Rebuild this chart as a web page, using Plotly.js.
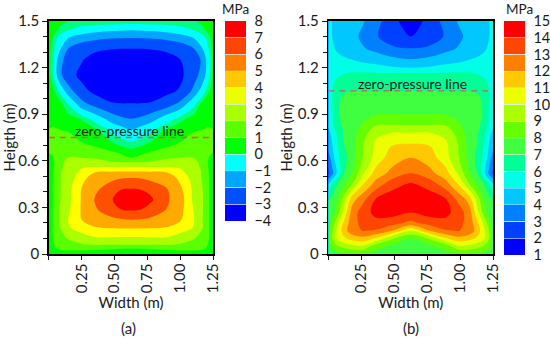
<!DOCTYPE html>
<html><head><meta charset="utf-8">
<script src="https://cdn.plot.ly/plotly-3.0.1.min.js"></script>
<style>html,body{margin:0;padding:0;background:#fff}</style></head>
<body><div id="chart" style="width:550px;height:338px"></div>
<script>
var FONT = 'Lato, "Open Sans", sans-serif';
var INK = '#1a1a1a';
var aX = [0,.03,.08,.15,.25,.35,.48,.55,.625,.70,.77,.90,1.0,1.10,1.17,1.22,1.25];
var aY = [0,.035,.06,.11,.165,.22,.28,.35,.42,.49,.53,.56,.59,.62,.65,.72,.80,.87,.97,1.05,1.15,1.25,1.32,1.39,1.44,1.48,1.5];
var aZ = [
[.55,.6,.6,.6,.6,.6,.6,.6,.6,.6,.6,.6,.6,.6,.6,.6,.55],
[.6,.85,1.1,1.2,1.2,1.15,1.05,1.02,1,1.02,1.05,1.15,1.2,1.2,1.1,.85,.6],
[.6,.9,1.3,1.6,1.9,2.05,2.05,2.02,2,2.02,2.05,2.05,1.9,1.6,1.3,.9,.6],
[.6,1,1.6,2.2,2.7,3,3.05,3.02,3,3.02,3.05,3,2.7,2.2,1.6,1,.6],
[.6,1,1.9,2.9,3.4,3.8,4,4.02,4.02,4.02,4,3.8,3.4,2.95,2,1,.6],
[.6,1,2,3.05,4,4.9,5.7,5.9,6,5.95,5.8,5,4.1,3.1,2,1,.6],
[.6,1,2,2.9,4.1,5.8,6.7,6.95,7,6.95,6.7,5.9,4.3,3,2.05,1,.6],
[.5,.95,1.9,2.7,4.1,6.1,6.95,7.5,7.7,7.55,7.15,6.3,4.5,2.8,2.05,1,.5],
[.6,1,1.9,2.7,4.05,5.7,6.7,6.95,7,6.95,6.8,6,4.2,2.8,2,1,.55],
[.55,.95,1.9,2.5,3.6,4.6,5.7,5.95,6,5.95,5.7,4.7,3.7,2.6,1.9,.95,.55],
[.5,.9,1.9,2.4,3.2,3.9,4,4.02,4.02,4.02,4,3.9,3.2,2.5,1.9,.9,.5],
[.5,.85,1.8,2.3,2.9,3,3,3.02,3.02,3.02,3,3,2.9,2.3,1.85,.85,.5],
[.5,.8,1.7,2.3,2.4,2.3,2.1,2.03,2,2.03,2.1,2.3,2.4,2.3,1.7,.8,.5],
[.85,.95,1.7,2.05,2,1.9,1.4,1.15,1,1.15,1.4,1.9,2,2,1.7,.95,.85],
[1,1.1,1.4,1.5,1.4,1.3,1.1,.95,.8,.9,1.05,1.25,1.35,1.4,1.4,1.1,1],
[1.25,1.3,1.3,1.2,1,.8,.5,.25,.05,.25,.5,.8,1,1.2,1.3,1.3,1.25],
[1,1.05,1,.95,.85,.6,-.2,-.6,-1,-.6,-.2,.6,.85,.95,1,1.05,1],
[.9,.85,.85,.8,.45,-.3,-1.5,-1.85,-2,-1.85,-1.5,-.4,.3,.8,.85,.85,.9],
[.85,.8,.75,-.1,-1.7,-2.5,-2.95,-3,-3,-3,-2.95,-2.6,-1.8,-.3,.7,.8,.85],
[.8,.65,-.1,-1.6,-2.75,-3.2,-3.6,-3.67,-3.7,-3.67,-3.6,-3.2,-2.9,-1.8,-.4,.5,.8],
[.8,.1,-1.7,-2.7,-3.2,-3.5,-3.75,-3.82,-3.85,-3.82,-3.75,-3.5,-3.2,-2.4,-1.6,-.1,.7],
[.7,.2,-1.6,-2.5,-2.95,-3.3,-3.55,-3.58,-3.6,-3.58,-3.55,-3.3,-3,-2.6,-1.8,-.2,.65],
[.7,.3,-.8,-2.1,-2.6,-2.85,-2.98,-3.02,-3.02,-3.02,-2.98,-2.85,-2.6,-2.1,-1,.1,.7],
[.75,.5,-.3,-1,-1.6,-1.8,-1.95,-1.98,-2,-1.98,-1.95,-1.8,-1.6,-1,-.3,.4,.75],
[.85,.65,.4,0,-.4,-.7,-.9,-.95,-1,-.95,-.9,-.7,-.4,0,.4,.65,.85],
[.9,.8,.6,.35,.2,.1,.05,.02,0,.02,.05,.1,.2,.35,.55,.8,.9],
[.9,.85,.65,.45,.4,.35,.3,.3,.3,.3,.3,.35,.4,.45,.6,.85,.9]
];
var bX = [0,.03,.07,.12,.18,.26,.36,.48,.625,.77,.89,.99,1.07,1.13,1.18,1.22,1.25];
var bY = [0,.05,.1,.15,.2,.27,.35,.45,.52,.62,.71,.78,.83,.9,1,1.05,1.1,1.165,1.2,1.25,1.32,1.4,1.5];
var bZ = [
[7,7.4,7.7,7.9,8,7.95,7.7,7.4,7.1,7.4,7.7,7.95,8,7.9,7.7,7.4,7],
[7.3,8.4,8.9,9.4,9.7,9.9,8.4,7.8,7.5,7.8,8.4,9.9,9.7,9.4,8.9,8.4,7.3],
[7.6,9,10.2,10.8,11.4,11.7,10.9,9.2,7.8,9.2,10.9,11.7,11.4,10.8,10.2,9,7.6],
[7.3,8.9,10.2,11.6,12.6,13.05,12.9,12,10.1,12,12.9,13.05,12.6,11.6,10.2,8.9,7.3],
[7.1,8.4,9.8,11.2,12.6,13.3,13.7,13.4,12.75,13.4,13.7,13.3,12.6,11.2,9.8,8.4,7.1],
[7.1,7.4,8.5,10.3,12.4,13.5,14.3,14.5,14.05,14.5,14.3,13.5,12.4,10.3,8.5,7.4,7.1],
[6.95,7.3,7.95,9.6,11.6,12.7,14.1,14.6,14.7,14.6,14.1,12.7,11.6,9.6,7.95,7.3,6.95],
[5,6,7,7.8,9,10.9,12.4,13.55,14.15,13.55,12.4,10.9,9,7.8,7,6,5],
[2.8,3.7,5.3,7,8,9.8,11.4,12.3,13,12.3,11.4,9.8,8,7,5.3,3.7,2.8],
[3.4,4.6,5.7,6.7,7.6,9,10.4,11.5,12,11.5,10.4,9,7.6,6.7,5.7,4.6,3.4],
[4.6,5,6,7,7.6,8.9,10.2,10.9,11,10.9,10.2,8.9,7.6,7,6,5,4.6],
[4.8,5.2,6.3,7.1,7.5,8.5,9.7,10,10,10,9.7,8.5,7.5,7.1,6.3,5.2,4.8],
[5.1,5.8,6.7,7.2,7.5,8.1,8.95,9,9,9,8.95,8.1,7.5,7.2,6.7,5.8,5.1],
[5.2,5.9,6.9,7.3,7.5,7.7,7.95,8,8,8,7.95,7.7,7.5,7.3,6.9,5.9,5.2],
[5.3,6,6.8,7.2,7.3,7.4,7.45,7.5,7.5,7.5,7.45,7.4,7.3,7.2,6.8,6,5.3],
[5.3,5.95,6.5,6.9,7,7,7,7,7,7,7,7,7,6.9,6.5,5.95,5.3],
[5.3,5.9,6.2,6.4,6.5,6.5,6.5,6.5,6.5,6.5,6.5,6.5,6.5,6.4,6.2,5.9,5.3],
[5.3,5.4,5.8,5.95,6.05,6.05,6.05,6.02,6,6.02,6.05,6.05,6.05,5.95,5.8,5.4,5.3],
[5.3,5.3,5.5,5.6,5.6,5.5,5.3,5.1,4.95,5.1,5.3,5.5,5.6,5.6,5.5,5.3,5.3],
[5.25,5.2,5.2,5.1,5,4.75,4.6,4.3,4.05,4.3,4.6,4.75,5,5.1,5.2,5.2,5.25],
[5.2,5.1,4.9,4.7,4.4,4.1,3.75,3.2,3.05,3.2,3.75,4.1,4.4,4.7,4.9,5.1,5.2],
[5.1,5,4.7,4.5,4.3,3.8,3.1,2.5,2,2.5,3.1,3.8,4.3,4.5,4.7,5,5.1],
[5.05,5,4.8,4.6,4.4,4.1,3.4,2.4,1.3,2.4,3.4,4.1,4.4,4.6,4.8,5,5.05]
];
var aBarColors = ['#0000ff','#0050ff','#00a5ff','#00ffff','#00ff00','#5aff00','#aaff00','#ebff00','#ffc800','#ff8000','#ff4600','#ff0000'];
var bBarColors = ['#0000ff','#0040ff','#0080ff','#00c8ff','#00ffe6','#00ff96','#40ff40','#64ff00','#aaff00','#ebff00','#ffc800','#ff8000','#ff4600','#ff0000'];
var aFillColors = ['#0000ff','#0000ff','#0050ff','#0050ff','#00a5ff','#00a5ff','#00ffff','#00ffff','#00ff80','#00ff00','#5aff00','#5aff00','#aaff00','#aaff00','#ffff00','#ffff00','#ffaa00','#ffaa00','#ffaa00','#ffaa00','#ff5000','#ff5000','#ff0000','#ff0000'];
var aTicks = [-4,-3,-2,-1,0,1,2,3,4,5,6,7,8];
var bTicks = [1,2,3,4,5,6,7,8,9,10,11,12,13,14,15];
var xTicks = [0,.25,.5,.75,1,1.25];
var xLabels = ['','0.25','0.50','0.75','1.00','1.25'];
var yTicks = [0,.3,.6,.9,1.2,1.5];
var yLabels = ['0','0.3','0.6','0.9','1.2','1.5'];
var yMinor = [.1,.2,.4,.5,.7,.8,1,1.1,1.3,1.4];
var aZeroLine = [.75,.75];
var bZeroLine = [1.05,1.05];
var lineX = [0,1.25];

function scale(cols){
  var bands=[cols[0]].concat(cols,[cols[cols.length-1]]);
  var n=bands.length-1;
  return bands.map(function(c,i){return [i/n,c];});
}
function barScale(cols){
  var n=cols.length,g=.035,out=[];
  cols.forEach(function(c,i){
    if(i>0) out.push([i/n,'#e6eef0']);
    out.push([(i+(i>0?g:0))/n,c]);
    out.push([(i+1-(i<n-1?g:0))/n,c]);
  });
  return out;
}
function base(x,y,z,cols,ticks,xa,ya,barX,barLen){
  return {type:'heatmap',x:x,y:y,z:z,xaxis:xa,yaxis:ya,zmin:ticks[0],zmax:ticks[ticks.length-1],
    colorscale:barScale(cols),showscale:true,hoverinfo:'skip',
    colorbar:{x:barX/550,xref:'paper',xanchor:'left',xpad:0,ypad:0,y:1-21/338,yref:'paper',yanchor:'top',
      len:barLen,lenmode:'pixels',thickness:21,thicknessmode:'pixels',outlinewidth:0,
      tickmode:'array',tickvals:ticks,ticktext:ticks.map(function(v){return v<0?'\u2212'+(-v):String(v);}),
      ticks:'outside',ticklen:6,tickwidth:1,tickcolor:'rgba(0,0,0,0)',tickfont:{family:FONT,size:14.5,color:INK}}};
}
function fill(x,y,z,cols,start,end,size,xa,ya){
  return {type:'contour',x:x,y:y,z:z,xaxis:xa,yaxis:ya,autocontour:false,
    contours:{coloring:'fill',start:start,end:end,size:size,showlines:false},
    line:{width:0,smoothing:1},colorscale:scale(cols),showscale:false,hoverinfo:'skip'};
}
function dash(y,xa,ya){
  return {type:'scatter',mode:'lines',x:lineX,y:y,xaxis:xa,yaxis:ya,showlegend:false,hoverinfo:'skip',
    line:{color:'#d0604a',width:1.4,dash:'6px,5px'}};
}
function xAxis(dom,anchor){
  return {domain:dom,anchor:anchor,range:[0,1.25],tickmode:'array',tickvals:xTicks,ticktext:xLabels,tickangle:-90,
    ticks:'outside',ticklen:4,tickwidth:1,tickcolor:INK,showgrid:false,zeroline:false,showline:true,linecolor:'#000',linewidth:1.6,mirror:true,ticklabelstandoff:-2,
    tickfont:{family:FONT,size:15,color:INK},title:{text:'Width (m)',font:{family:FONT,size:15,color:INK},standoff:3},automargin:false,layer:'above traces'};
}
function yAxis(dom,anchor){
  return {domain:dom,anchor:anchor,range:[0,1.5],tickmode:'array',tickvals:yTicks,ticktext:yLabels,
    ticks:'outside',ticklen:5,tickwidth:1,tickcolor:INK,showgrid:false,zeroline:false,showline:true,linecolor:'#000',linewidth:1.6,mirror:true,
    minor:{tickvals:yMinor,ticks:'outside',ticklen:4,tickwidth:1,tickcolor:INK,showgrid:false},
    tickfont:{family:FONT,size:15,color:INK},title:{text:'Heigth (m)',font:{family:FONT,size:15,color:INK},standoff:1},automargin:false,layer:'above traces'};
}
function note(t,x,y,size){
  return {text:t,xref:'paper',yref:'paper',x:x/550,y:1-y/338,xanchor:'center',yanchor:'middle',showarrow:false,font:{family:FONT,size:size,color:INK}};
}
var yDom=[1-254/338,1-21/338];
var data=[
  base(aX,aY,aZ,aBarColors,aTicks,'x','y',225.5,200),
  fill(aX,aY,aZ,aFillColors,-4,8,.5,'x','y'),
  dash(aZeroLine,'x','y'),
  base(bX,bY,bZ,bBarColors,bTicks,'x2','y2',505.5,234),
  fill(bX,bY,bZ,bBarColors,1,15,1,'x2','y2'),
  dash(bZeroLine,'x2','y2')
];
var layout={width:550,height:338,margin:{l:0,r:0,t:0,b:0},paper_bgcolor:'#fff',plot_bgcolor:'#fff',showlegend:false,
  xaxis:xAxis([49/550,214/550],'y'),yaxis:yAxis(yDom,'x'),
  xaxis2:xAxis([329.5/550,495/550],'y2'),yaxis2:yAxis(yDom,'x2'),
  annotations:[
    note('zero-pressure line',130,130,14),note('zero-pressure line',414,84,14),
    note('MPa',236,9.5,13.5),note('MPa',521,9.5,13.5),
    note('(a)',129,328,15),note('(b)',412,328,15)
  ]};
Plotly.newPlot('chart',data,layout,{displayModeBar:false,staticPlot:true});
</script></body></html>
